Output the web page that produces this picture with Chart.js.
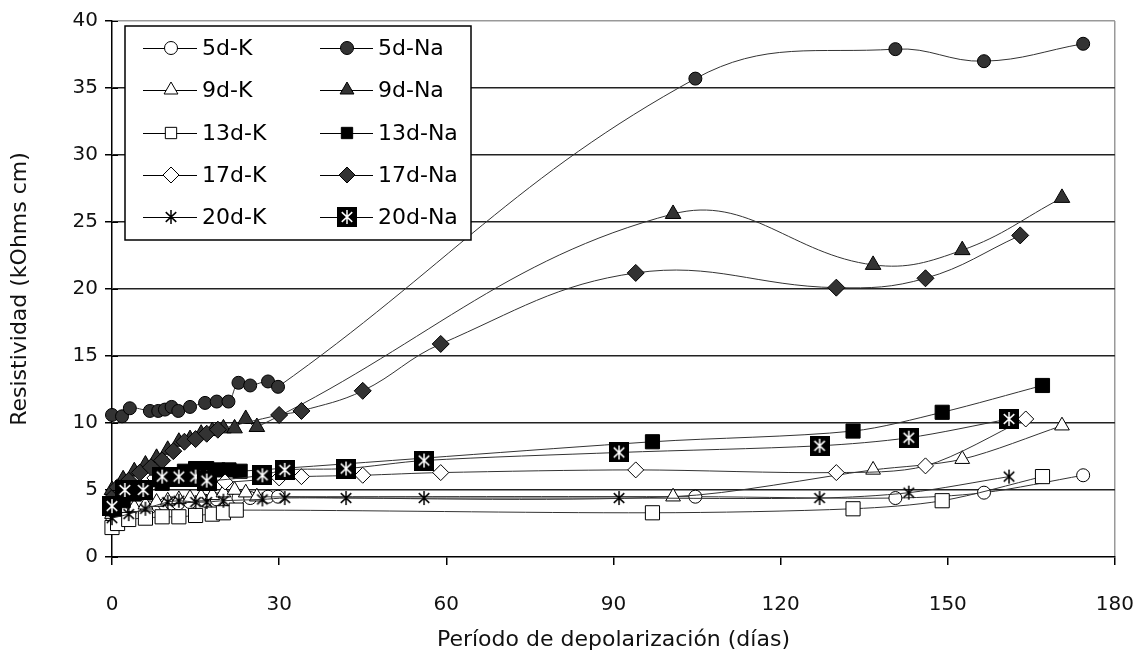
<!DOCTYPE html>
<html>
<head>
<meta charset="utf-8">
<script src="https://cdn.jsdelivr.net/npm/chart.js@4.4.1/dist/chart.umd.min.js"></script>
<style>
    body { margin: 0; background: #fff; }
    #wrap { width: 1138px; height: 665px; }
</style>
</head>
<body>
<div id="wrap"><canvas id="resChart" width="1138" height="665"></canvas></div>
<script>
// DATOS (días de depolarización / resistividad kOhms cm)
const days5 = [0, 1.8, 3.2, 6.8, 8.3, 9.5, 10.7, 11.9, 14, 16.7, 18.8, 20.9, 22.7, 24.8, 28, 29.8, 104.7, 140.6, 156.5, 174.3];
const res5dNa = [10.6, 10.5, 11.1, 10.9, 10.9, 11.0, 11.2, 10.9, 11.2, 11.5, 11.6, 11.6, 13.0, 12.8, 13.1, 12.7, 35.7, 37.9, 37.0, 38.3];
const res5dK = [3.0, 3.2, 3.4, 3.7, 3.8, 3.9, 4.0, 4.0, 4.1, 4.2, 4.3, 4.3, 4.4, 4.4, 4.5, 4.5, 4.5, 4.4, 4.8, 6.1];

const days9 = [0, 2, 4, 6, 8, 10, 12, 14, 16, 18, 20, 22, 24, 26, 100.7, 136.6, 152.6, 170.5];
const res9dNa = [5.0, 5.8, 6.4, 6.9, 7.4, 8.0, 8.6, 8.8, 9.2, 9.4, 9.6, 9.6, 10.3, 9.7, 25.6, 21.8, 22.9, 26.8];
const res9dK = [3.2, 3.5, 3.7, 3.9, 4.1, 4.2, 4.3, 4.4, 4.5, 4.6, 4.8, 5.0, 4.8, 4.5, 4.5, 6.5, 7.3, 9.8];

const days13Na = [0, 2, 4, 6, 9, 11, 13, 15, 17, 19, 21, 23, 97, 133, 149, 167];
const res13dNa = [3.6, 4.2, 4.7, 5.0, 5.5, 6.0, 6.4, 6.6, 6.6, 6.5, 6.5, 6.4, 8.6, 9.4, 10.8, 12.8];
const days13K = [0, 1, 3, 6, 9, 12, 15, 18, 20, 22.3, 97, 133, 149, 167];
const res13dK = [2.2, 2.5, 2.8, 2.9, 3.0, 3.0, 3.1, 3.2, 3.3, 3.5, 3.3, 3.6, 4.2, 6.0];

const days17Na = [0, 1, 3, 5, 7, 9, 11, 13, 15, 17, 19, 30, 34, 45, 59, 94, 130, 146, 163];
const res17dNa = [4.4, 5.2, 5.7, 6.3, 6.7, 7.2, 7.9, 8.6, 8.8, 9.2, 9.5, 10.6, 10.9, 12.4, 15.9, 21.2, 20.1, 20.8, 24.0];
const days17K = [0, 1.5, 4, 7.7, 11, 14, 17, 20.3, 30, 34, 45, 59, 94, 130, 146, 164];
const res17dK = [4.2, 4.8, 5.0, 5.9, 6.0, 6.0, 5.9, 5.6, 5.9, 6.0, 6.1, 6.3, 6.5, 6.3, 6.8, 10.3];

const days20Na = [0, 2.3, 5.6, 9, 12, 15, 17, 27, 31, 42, 56, 91, 127, 143, 161];
const res20dNa = [3.8, 5.0, 5.0, 6.0, 6.0, 6.0, 5.7, 6.1, 6.5, 6.6, 7.2, 7.8, 8.3, 8.9, 10.3];
const days20K = [0, 3, 6, 10, 12, 15, 17, 20, 27, 31, 42, 56, 91, 127, 143, 161];
const res20dK = [2.9, 3.2, 3.6, 4.1, 4.2, 4.1, 4.1, 4.2, 4.3, 4.4, 4.4, 4.4, 4.4, 4.4, 4.8, 6.0];

const xTicks = [0, 30, 60, 90, 120, 150, 180];
const yTicks = [0, 5, 10, 15, 20, 25, 30, 35, 40];

// marcadores tipo asterisco (Excel)
function makeStar(size, bg, fg) {
    const c = document.createElement('canvas');
    c.width = size; c.height = size;
    const g = c.getContext('2d');
    if (bg) { g.fillStyle = bg; g.fillRect(0, 0, size, size); }
    g.strokeStyle = fg;
    g.lineWidth = 1.5;
    const m = size / 2, r = bg ? size / 2 - 3 : size / 2 - 1;
    g.beginPath();
    g.moveTo(m, m - r); g.lineTo(m, m + r);
    g.moveTo(m - r * 0.75, m - r * 0.7); g.lineTo(m + r * 0.75, m + r * 0.7);
    g.moveTo(m - r * 0.75, m + r * 0.7); g.lineTo(m + r * 0.75, m - r * 0.7);
    g.stroke();
    return c;
}
const starK = makeStar(16, null, '#000');
const starNa = makeStar(20, '#000', '#fff');

const pts = (xs, ys) => xs.map((d, i) => ({ x: d, y: ys[i] }));

function serie(label, xs, ys, style, fill, radius, tension) {
    return {
        label: label,
        data: pts(xs, ys),
        borderColor: '#333',
        borderWidth: 1,
        pointStyle: style,
        pointRadius: radius,
        pointBackgroundColor: fill,
        pointBorderColor: '#000',
        pointBorderWidth: 1,
        tension: tension,
        clip: false
    };
}

const datasets = [
    serie('5d-K', days5, res5dK, 'circle', '#fff', 6.5, 0.3),
    serie('5d-Na', days5, res5dNa, 'circle', '#333', 6.5, 0.4),
    serie('9d-K', days9, res9dK, 'triangle', '#fff', 8.5, 0.3),
    serie('9d-Na', days9, res9dNa, 'triangle', '#333', 9, 0.4),
    serie('13d-K', days13K, res13dK, 'rect', '#fff', 10, 0.3),
    serie('13d-Na', days13Na, res13dNa, 'rect', '#000', 10, 0.3),
    serie('17d-K', days17K, res17dK, 'rectRot', '#fff', 8, 0.3),
    serie('17d-Na', days17Na, res17dNa, 'rectRot', '#333', 8.5, 0.4),
    serie('20d-K', days20K, res20dK, starK, '#000', 7, 0.3),
    serie('20d-Na', days20Na, res20dNa, starNa, '#000', 9, 0.3)
];
// las últimas series se dibujan encima
datasets.forEach((ds, i) => { ds.order = datasets.length - i; });

// LEYENDA dentro del área (dos columnas: K / Na)
const legendBox = {
    id: 'legendBox',
    afterDraw(chart) {
        const ctx = chart.ctx;
        ctx.save();
        ctx.fillStyle = '#fff';
        ctx.strokeStyle = '#000';
        ctx.lineWidth = 1.5;
        ctx.fillRect(125, 26, 346, 214);
        ctx.strokeRect(125, 26, 346, 214);
        const rows = [48, 90, 133, 175, 217];
        const cols = [{ l0: 143, l1: 197, m: 171, t: 202 }, { l0: 320, l1: 373, m: 347, t: 378 }];
        ctx.font = '22px "DejaVu Sans"';
        ctx.textBaseline = 'middle';
        ctx.textAlign = 'left';
        chart.data.datasets.forEach((ds, i) => {
            const c = cols[i % 2], y = rows[Math.floor(i / 2)];
            ctx.strokeStyle = '#000';
            ctx.lineWidth = 1;
            ctx.beginPath();
            ctx.moveTo(c.l0, y + 0.5); ctx.lineTo(c.l1, y + 0.5);
            ctx.stroke();
            ctx.fillStyle = ds.pointBackgroundColor;
            ctx.strokeStyle = '#000';
            Chart.helpers.drawPoint(ctx, {
                pointStyle: ds.pointStyle,
                radius: Math.min(ds.pointRadius, 8),
                rotation: 0,
                borderWidth: 1
            }, c.m, y);
            ctx.fillStyle = '#000';
            ctx.fillText(ds.label, c.t, y + 1);
        });
        ctx.restore();
    }
};

// marcas del eje Y hacia dentro
const innerTicks = {
    id: 'innerTicks',
    afterDatasetsDraw(chart) {
        const ctx = chart.ctx, y = chart.scales.y, left = chart.chartArea.left;
        ctx.save();
        ctx.strokeStyle = '#000';
        ctx.lineWidth = 1;
        yTicks.forEach(v => {
            const py = Math.round(y.getPixelForValue(v)) + 0.5;
            ctx.beginPath();
            ctx.moveTo(left, py); ctx.lineTo(left + 6, py);
            ctx.stroke();
        });
        ctx.restore();
    }
};

Chart.defaults.font.family = '"DejaVu Sans", sans-serif';
Chart.defaults.color = '#111';

new Chart(document.getElementById('resChart'), {
    type: 'line',
    data: { datasets: datasets },
    options: {
        responsive: false,
        animation: false,
        events: [],
        layout: { padding: { left: 4, right: 0, top: 21, bottom: 0 } },
        plugins: { legend: { display: false }, tooltip: { enabled: false } },
        scales: {
            x: {
                type: 'linear',
                min: 0, max: 180,
                afterBuildTicks: s => { s.ticks = xTicks.map(v => ({ value: v })); },
                afterFit: s => { s.height = 108; },
                // lineHeight grande para bajar las etiquetas sin aumentar el padding lateral
                ticks: { font: { size: 20, lineHeight: 3.6 }, padding: 4, color: '#111' },
                grid: {
                    color: c => c.tick && c.tick.value === 180 ? '#999' : 'rgba(0,0,0,0)',
                    lineWidth: 1.5,
                    tickColor: '#000',
                    tickLength: 8
                },
                border: { color: '#000', width: 1.5 },
                title: {
                    display: true,
                    text: 'Período de depolarización (días)',
                    font: { size: 22 },
                    color: '#111',
                    padding: { top: 0, bottom: 12 }
                }
            },
            y: {
                min: 0, max: 40,
                afterBuildTicks: s => { s.ticks = yTicks.map(v => ({ value: v })); },
                afterFit: s => { s.width = 108; },
                ticks: { font: { size: 20 }, padding: 7, color: '#111' },
                grid: {
                    color: c => {
                        if (!c.tick) return '#222';
                        if (c.tick.value === 40) return '#999';
                        if (c.tick.value === 0) return 'rgba(0,0,0,0)';
                        return '#222';
                    },
                    lineWidth: 1.5,
                    tickColor: '#000',
                    tickLength: 7
                },
                border: { color: '#000', width: 1.5 },
                title: {
                    display: true,
                    text: 'Resistividad (kOhms cm)',
                    font: { size: 22 },
                    color: '#111',
                    padding: { top: 3, bottom: 0 }
                }
            }
        }
    },
    plugins: [innerTicks, legendBox]
});
</script>
</body>
</html>
